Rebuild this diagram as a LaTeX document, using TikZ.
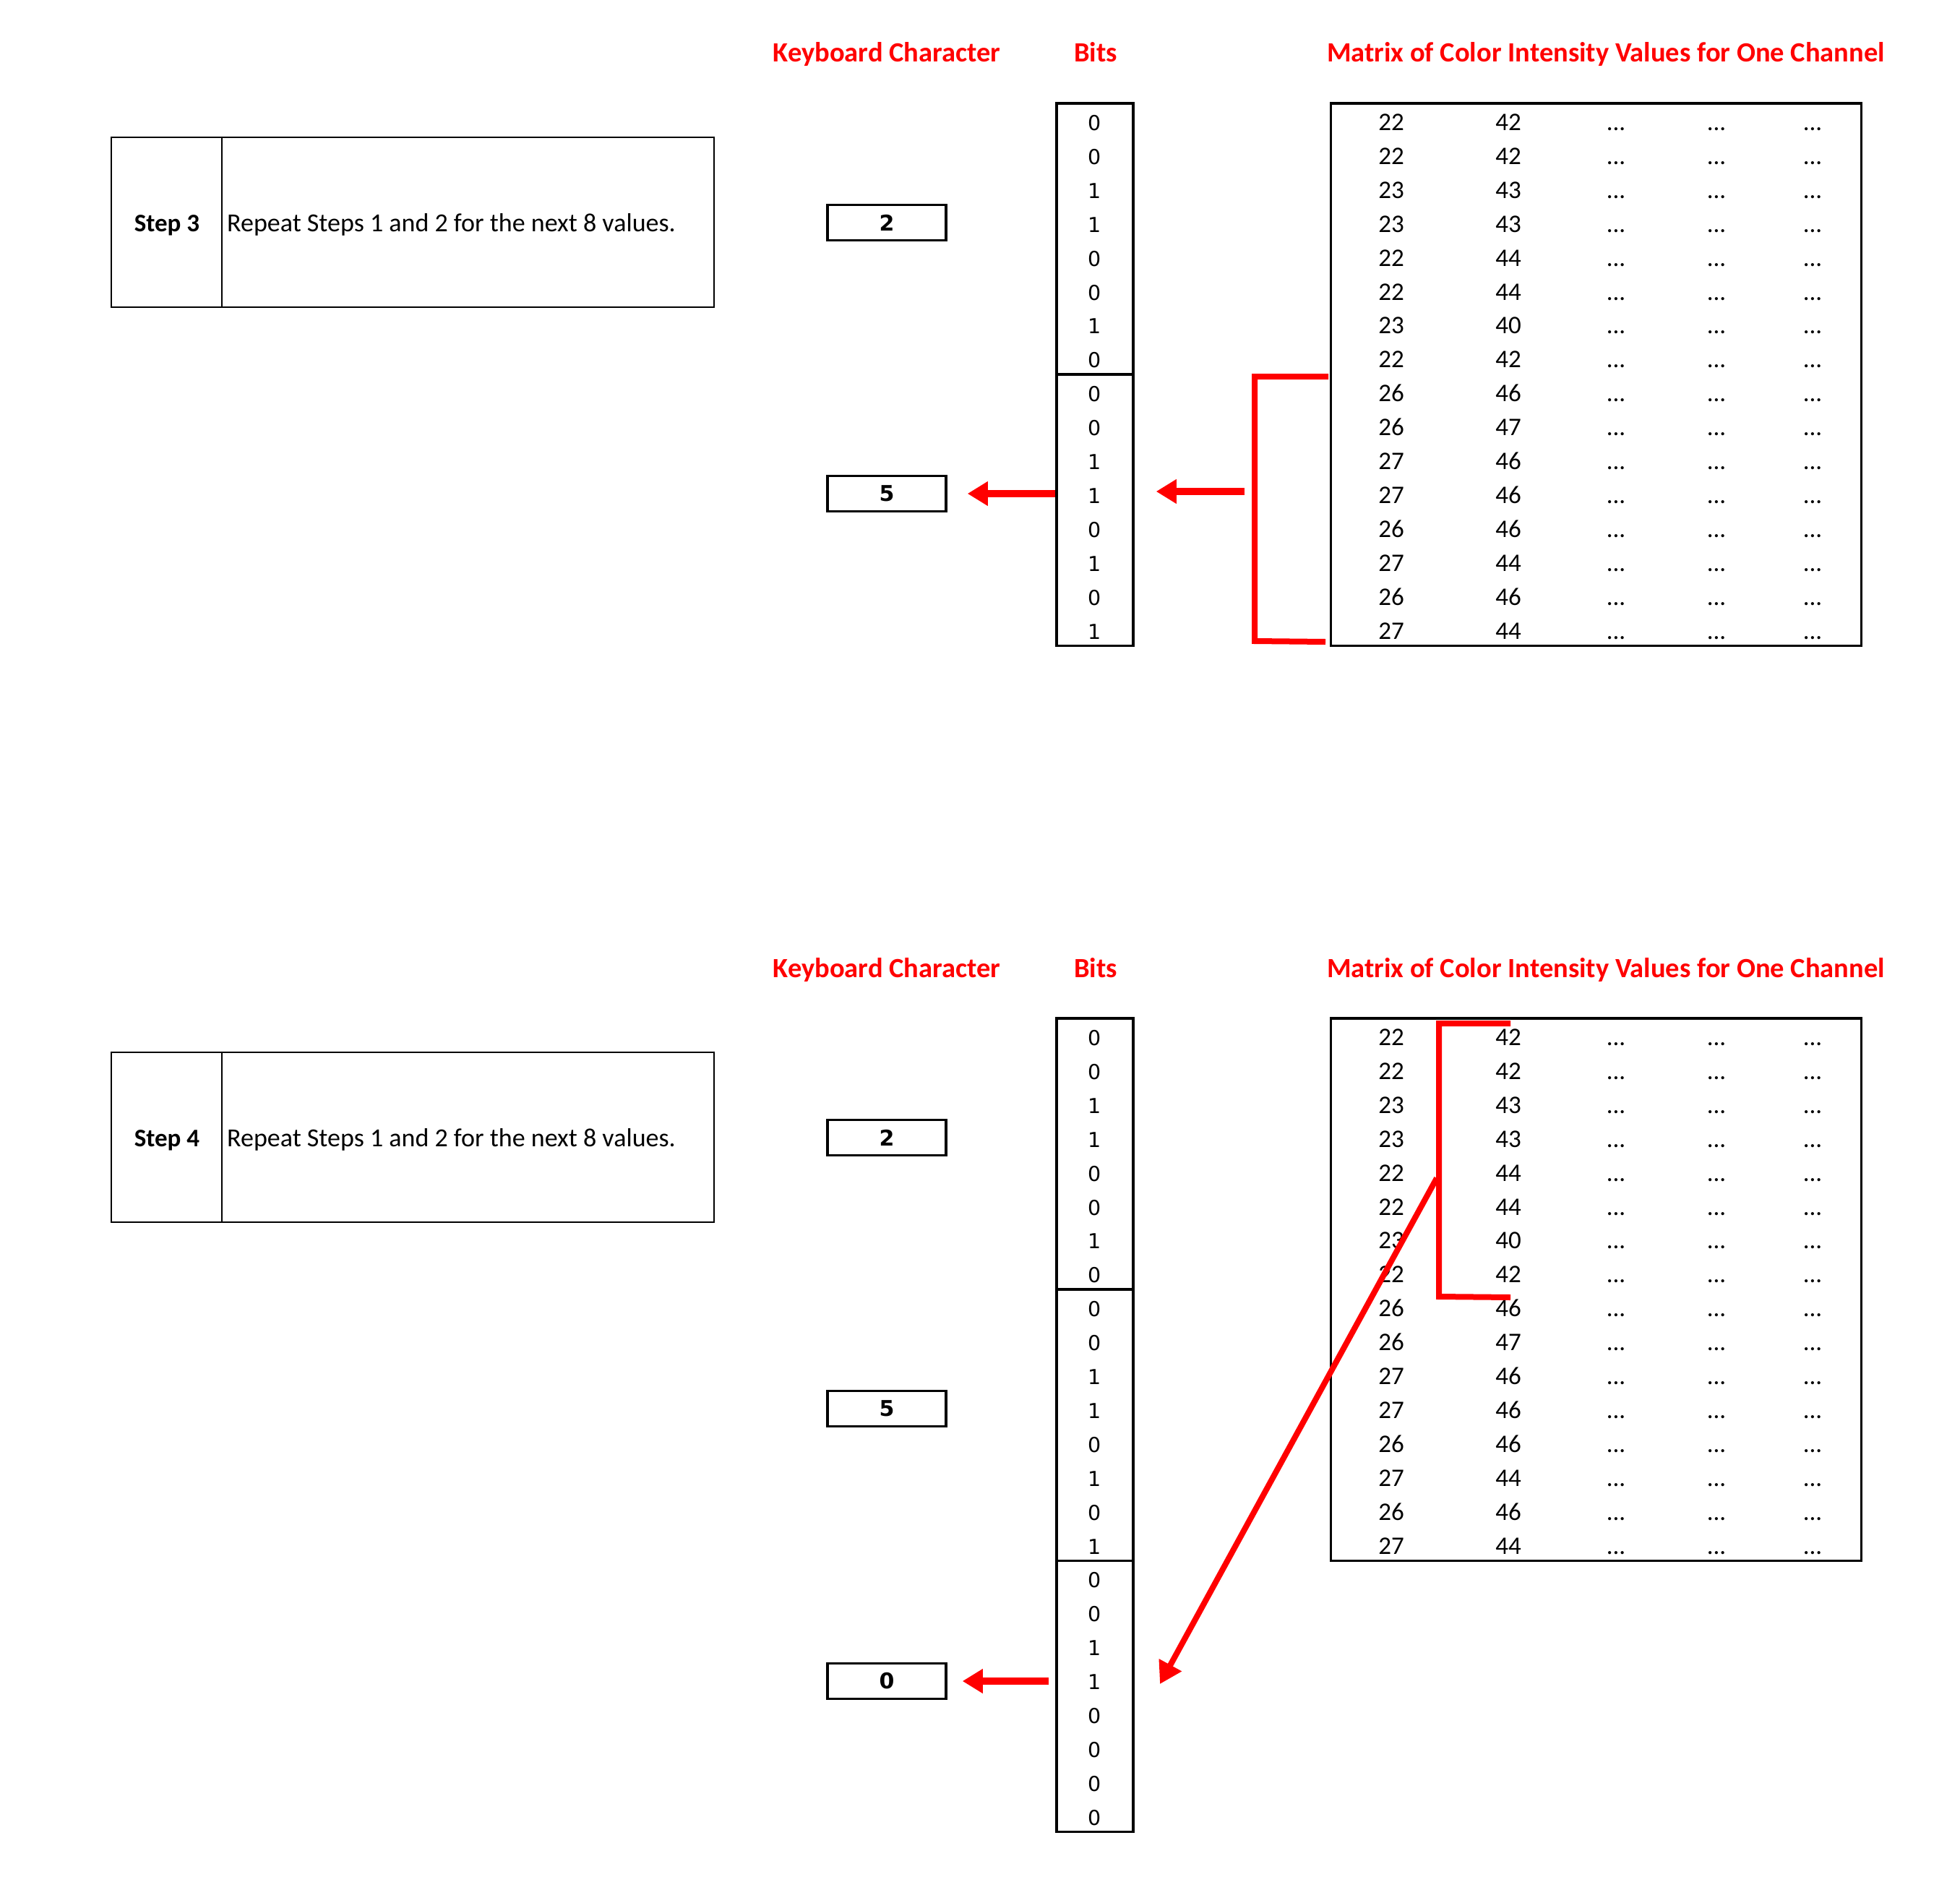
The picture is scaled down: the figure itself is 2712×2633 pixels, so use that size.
\documentclass[tikz,border=0pt]{standalone}
\usepackage{fontspec}
\setmainfont{Carlito}
\newfontfamily\bitfont{DejaVu Sans}
\usetikzlibrary{arrows.meta}
\definecolor{hdrred}{RGB}{255,0,0}
\begin{document}
\begin{tikzpicture}[x=1pt,y=-1pt,
  hdr/.style={text=hdrred, font=\fontsize{38.5}{46}\selectfont\bfseries, inner sep=0, anchor=base},
  stepbox/.style={draw, line width=2, minimum width=834, minimum height=235, inner sep=0},
  steplabel/.style={font=\fontsize{35}{42}\selectfont\bfseries, inner sep=0, anchor=base},
  steptext/.style={font=\fontsize{36}{42}\selectfont, inner sep=0, anchor=base west},
  keybox/.style={draw, line width=3.5, minimum width=164, minimum height=49, inner sep=0,
                 font=\bitfont\fontsize{30}{36}\selectfont\bfseries},
  bitgroup/.style={draw, line width=3.5, minimum width=106, minimum height=375.2, inner sep=0},
  bitnum/.style={font=\bitfont\fontsize{28.5}{34}\selectfont, inner sep=0, anchor=base},
  matbox/.style={draw, line width=3.5, minimum width=734, minimum height=750.4, inner sep=0},
  matnum/.style={font=\fontsize{35}{42}\selectfont, inner sep=0, anchor=base},
  redline/.style={draw=hdrred, line width=8},
  redarrow/.style={draw=hdrred, line width=10, -{Triangle[length=28,width=32]}}
]
\useasboundingbox (0,0) rectangle (2712,2633);

% ================= Top panel (Step 3) =================
\node[hdr] (hkA) at (1227,86) {Keyboard Character};
\node[hdr] (hbA) at (1516,86) {Bits};
\node[hdr] (hmA) at (2222,86) {Matrix of Color Intensity Values for One Channel};

\node[stepbox] (sA) at (571,307.5) {};
\draw[line width=2] ([xshift=154]sA.north west) -- ([xshift=154]sA.south west);
\node[steplabel] (slA) at (231,320) {Step 3};
\node[steptext] (stA) at (314,320) {Repeat Steps 1 and 2 for the next 8 values.};

\node[keybox] (kA2) at (1227,308) {2};
\node[keybox] (kA5) at (1227,683) {5};

\node[bitgroup] (bA1) at (1515,330.6) {};
\node[bitgroup] (bA2) at (1515,705.8) {};
\foreach \v [count=\i from 0] in {0,0,1,1,0,0,1,0,0,0,1,1,0,1,0,1}
  \node[bitnum] (bitA\i) at (1515,180.5+46.9*\i) {\v};

\node[matbox] (mA) at (2208.5,518.2) {};
\foreach \a/\b [count=\i from 0] in {22/42,22/42,23/43,23/43,22/44,22/44,23/40,22/42,26/46,26/47,27/46,27/46,26/46,27/44,26/46,27/44}{
  \node[matnum] (mAa\i) at (1925,180.5+46.9*\i) {\a};
  \node[matnum] (mAb\i) at (2087,180.5+46.9*\i) {\b};
  \node[matnum] (mAc\i) at (2236,180.5+46.9*\i) {...};
  \node[matnum] (mAd\i) at (2375,180.5+46.9*\i) {...};
  \node[matnum] (mAe\i) at (2508,180.5+46.9*\i) {...};
}

\coordinate (brA1) at (1838,521);
\coordinate (brA2) at (1736,521);
\coordinate (brA3) at (1736,887);
\coordinate (brA4) at (1834,888);
\coordinate (brAm) at (1722,680);
\draw[redline] (brA1) -- (brA2) -- (brA3) -- (brA4);
\draw[redarrow, shorten >=30] (brAm) -- (brAm -| bA2.east);
\draw[redarrow, shorten >=28] (kA5 -| bA2.west) -- (kA5.east);

% ================= Bottom panel (Step 4) =================
\begin{scope}[shift={(0,1266)}]
\node[hdr] (hkB) at (1227,86) {Keyboard Character};
\node[hdr] (hbB) at (1516,86) {Bits};
\node[hdr] (hmB) at (2222,86) {Matrix of Color Intensity Values for One Channel};

\node[stepbox] (sB) at (571,307.5) {};
\draw[line width=2] ([xshift=154]sB.north west) -- ([xshift=154]sB.south west);
\node[steplabel] (slB) at (231,320) {Step 4};
\node[steptext] (stB) at (314,320) {Repeat Steps 1 and 2 for the next 8 values.};

\node[keybox] (kB2) at (1227,308) {2};
\node[keybox] (kB5) at (1227,683) {5};
\node[keybox] (kB0) at (1227,1060) {0};

\node[bitgroup] (bB1) at (1515,330.6) {};
\node[bitgroup] (bB2) at (1515,705.8) {};
\node[bitgroup] (bB3) at (1515,1081) {};
\foreach \v [count=\i from 0] in {0,0,1,1,0,0,1,0,0,0,1,1,0,1,0,1,0,0,1,1,0,0,0,0}
  \node[bitnum] (bitB\i) at (1515,180.5+46.9*\i) {\v};

\node[matbox] (mB) at (2208.5,518.2) {};
\foreach \a/\b [count=\i from 0] in {22/42,22/42,23/43,23/43,22/44,22/44,23/40,22/42,26/46,26/47,27/46,27/46,26/46,27/44,26/46,27/44}{
  \node[matnum] (mBa\i) at (1925,180.5+46.9*\i) {\a};
  \node[matnum] (mBb\i) at (2087,180.5+46.9*\i) {\b};
  \node[matnum] (mBc\i) at (2236,180.5+46.9*\i) {...};
  \node[matnum] (mBd\i) at (2375,180.5+46.9*\i) {...};
  \node[matnum] (mBe\i) at (2508,180.5+46.9*\i) {...};
}

\coordinate (brB1) at (2090,150);
\coordinate (brB2) at (1991,150);
\coordinate (brB3) at (1991,528);
\coordinate (brB4) at (2090,529);
\coordinate (brBm) at (1988,364);
\coordinate (tipB) at (1605,1064);
\draw[redline] (brB1) -- (brB2) -- (brB3) -- (brB4);
\draw[draw=hdrred, line width=8, -{Triangle[length=30,width=34]}] (brBm) -- (tipB);
\draw[redarrow, shorten >=21] ([xshift=-9]kB0 -| bB3.west) -- (kB0.east);
\end{scope}
\end{tikzpicture}
\end{document}
